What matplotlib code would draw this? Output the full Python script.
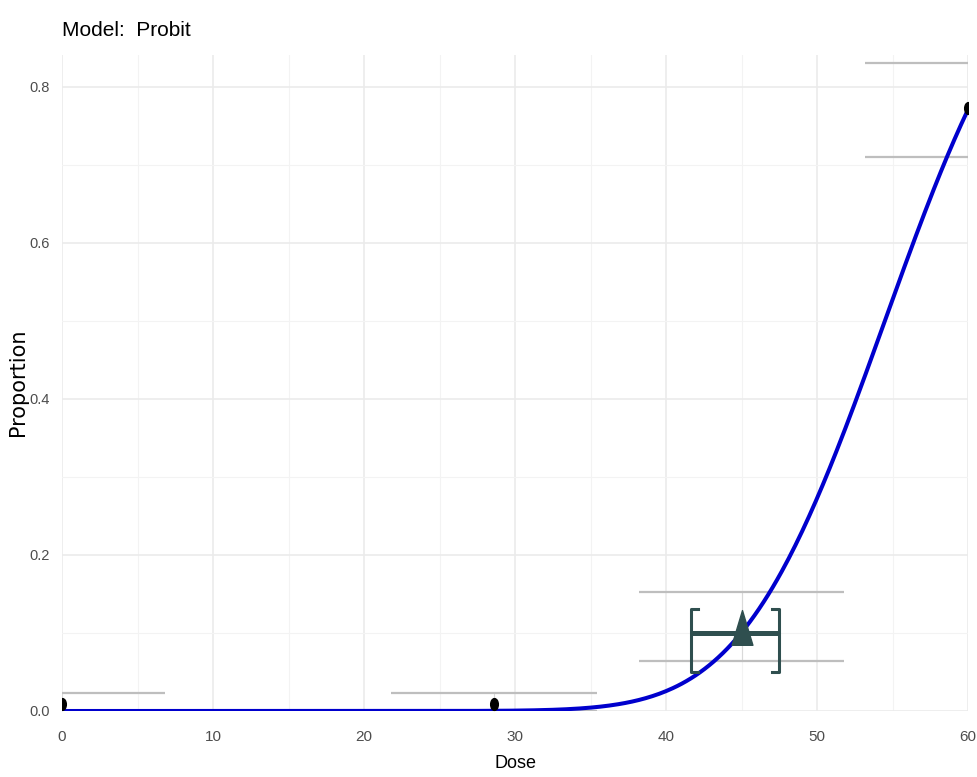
import numpy as np
import matplotlib
matplotlib.use("Agg")
import matplotlib.pyplot as plt
from matplotlib.path import Path
from matplotlib.transforms import Affine2D
from math import erf, sqrt

# Observed dose groups and response proportions
doses = [0.0, 28.6, 45.0, 60.0]
proportions = [0.009, 0.009, 0.10, 0.773]
ci_lower = [0.0, 0.0, 0.064, 0.710]
ci_upper = [0.023, 0.023, 0.153, 0.831]

# Fitted probit model: P(d) = Phi(intercept + slope * d)
probit_intercept = -7.34
probit_slope = 0.1347

# Benchmark dose estimate with its lower / upper limits
bmd = 45.0
bmd_response = 0.10
bmdl = 41.66
bmdu = 47.5

x_ticks = [0, 10, 20, 30, 40, 50, 60]
y_ticks = [0.0, 0.2, 0.4, 0.6, 0.8]

W, H = 977, 777
fig = plt.figure(figsize=(W / 100, H / 100), dpi=100)
left, right, top, bottom = 62, 968, 55, 711
ax = fig.add_axes([left / W, 1 - bottom / H, (right - left) / W, (bottom - top) / H])

ax.set_xlim(0, 60)
ax.set_ylim(0, 0.841)
for s in ax.spines.values():
    s.set_visible(False)

# Grid (theme_minimal look)
ax.set_xticks(x_ticks)
ax.set_yticks(y_ticks)
ax.set_xticks([5, 15, 25, 35, 45, 55], minor=True)
ax.set_yticks([0.1, 0.3, 0.5, 0.7], minor=True)
ax.grid(True, which="major", color="#EBEBEB", lw=1.2, zorder=0)
ax.grid(True, which="minor", color="#F3F3F3", lw=0.8, zorder=0)
ax.set_axisbelow(True)
ax.tick_params(which="both", length=0)
ax.tick_params(axis="x", pad=14)
ax.tick_params(axis="y", pad=9)

tick_font = ["Liberation Sans Narrow", "Liberation Sans", "DejaVu Sans"]
ax.set_xticklabels([str(v) for v in x_ticks], family=tick_font, fontsize=11, color="#4D4D4D")
ax.set_yticklabels([f"{v:.1f}" for v in y_ticks], family=tick_font, fontsize=10.5, color="#4D4D4D")

# Confidence interval caps for observed proportions
cap_half = 6.8
for d, lo, hi in zip(doses, ci_lower, ci_upper):
    ax.plot([d, d], [lo, hi], color="#D9D9D9", lw=0.8, zorder=2)
    for v in (lo, hi):
        ax.plot([d - cap_half, d + cap_half], [v, v], color="#BEBEBE", lw=1.6,
                solid_capstyle="butt", zorder=2)

# Fitted probit curve
def norm_cdf(z):
    return 0.5 * (1.0 + np.vectorize(erf)(z / sqrt(2.0)))

dose_grid = np.linspace(0, 60, 400)
ax.plot(dose_grid, norm_cdf(probit_intercept + probit_slope * dose_grid),
        color="#0000CD", lw=2.9, zorder=4, solid_capstyle="butt")

# Observed points (slightly tall dots)
dot = Path.unit_circle().transformed(Affine2D().scale(0.65, 1.0))
ax.plot(doses, proportions, ls="none", marker=dot, markersize=8.5,
        color="black", zorder=5)

# Benchmark dose interval with bracket ends
bmd_col = "#2F4F4F"
br_lo, br_hi, tick_len = 0.05, 0.131, 0.45
ax.plot([bmdl, bmdu], [bmd_response, bmd_response], color=bmd_col, lw=3.6,
        solid_capstyle="butt", zorder=6)
ax.plot([bmdl + tick_len, bmdl, bmdl, bmdl + tick_len], [br_hi, br_hi, br_lo, br_lo],
        color=bmd_col, lw=2.2, zorder=6)
ax.plot([bmdu - tick_len, bmdu, bmdu, bmdu - tick_len], [br_hi, br_hi, br_lo, br_lo],
        color=bmd_col, lw=2.2, zorder=6)
tri = Path([(-0.3, -0.34), (0.3, -0.34), (0.0, 0.66), (-0.3, -0.34)],
           [Path.MOVETO, Path.LINETO, Path.LINETO, Path.CLOSEPOLY])
ax.plot([bmd], [bmd_response], ls="none", marker=tri, markersize=33,
        color=bmd_col, zorder=7)

# Titles
fig.text(left / W, 1 - 36 / H, "Model:  Probit", family=tick_font, fontsize=15,
         color="black", ha="left", va="baseline")
fig.text((left + right) / 2 / W, 1 - 768 / H, "Dose", family=tick_font, fontsize=13,
         color="black", ha="center", va="baseline")
fig.text(18 / W, 1 - 382 / H, "Proportion", family=["DejaVu Sans"], fontsize=15,
         color="black", ha="center", va="center", rotation=90)

fig.savefig("out.png", dpi=100)
